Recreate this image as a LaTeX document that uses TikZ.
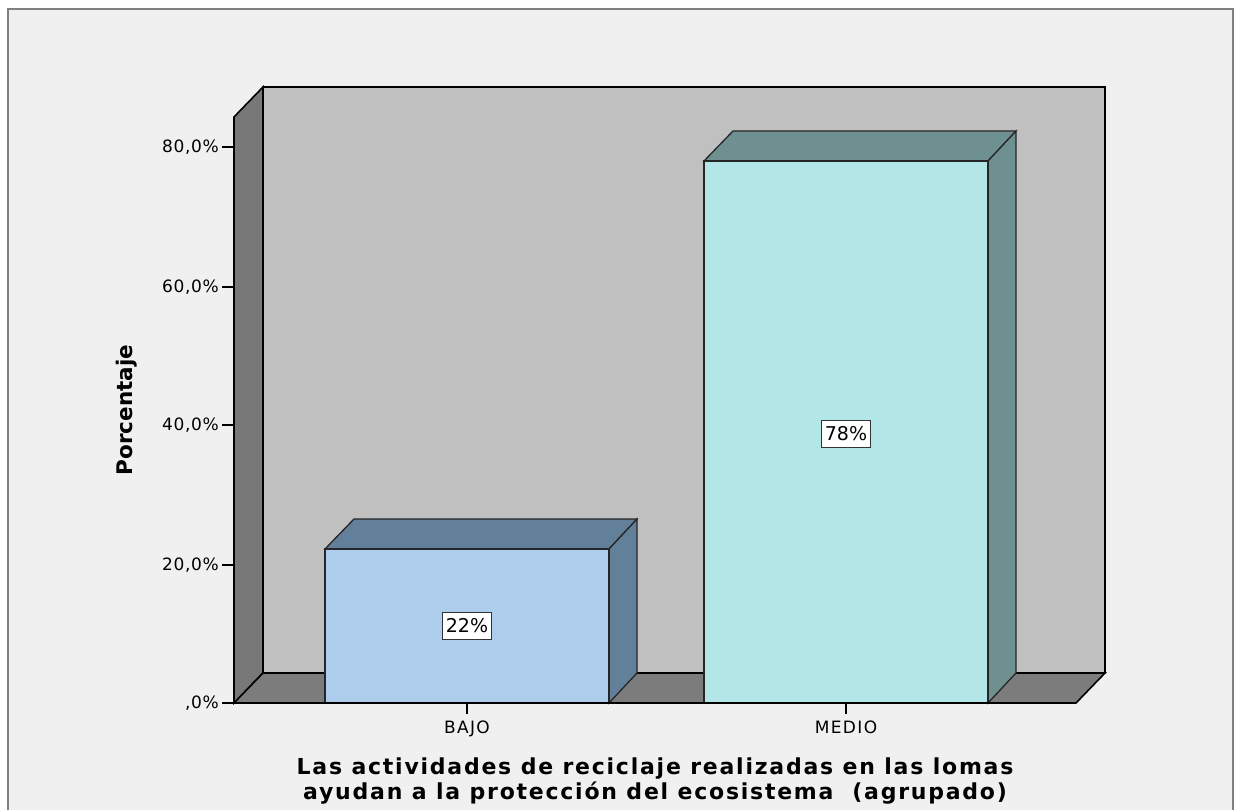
\documentclass[tikz,border=0pt]{standalone}
\usepackage{fontspec}
\setmainfont{DejaVu Sans}
\newfontfamily\titlefont[LetterSpace=8]{DejaVu Sans Bold}
\newfontfamily\labfont[LetterSpace=4]{DejaVu Sans}
\newfontfamily\catfont[LetterSpace=8]{DejaVu Sans}
\definecolor{bgc}{HTML}{F0F0F0}
\definecolor{framec}{HTML}{808080}
\definecolor{wallc}{HTML}{C0C0C0}
\definecolor{sidewallc}{HTML}{787878}
\definecolor{floorc}{HTML}{7C7C7C}
\definecolor{bajofront}{HTML}{AECDEC}
\definecolor{bajoside}{HTML}{62809A}
\definecolor{mediofront}{HTML}{B3E6E6}
\definecolor{medioside}{HTML}{6F9090}
\tikzset{
  edge/.style={draw=black, line width=1.6pt, line join=miter},
  baredge/.style={draw=black!85, line width=1.3pt, line join=miter},
  ticklab/.style={anchor=east, inner sep=0pt, font=\labfont\fontsize{17}{17}\selectfont},
  catlab/.style={anchor=north, inner sep=0pt, font=\catfont\fontsize{17}{17}\selectfont},
  valbox/.style={draw=black!80, fill=white, line width=1.3pt, inner xsep=3.5pt, inner ysep=6pt, font=\fontsize{19}{19}\selectfont},
  tickline/.style={draw=black, line width=1.4pt},
  xtitlestyle/.style={anchor=base, inner sep=0pt, font=\titlefont\fontsize{22}{22}\selectfont}
}
\begin{document}
\begin{tikzpicture}[x=1pt,y=-1pt]
\clip (0,0) rectangle (1234,810);
\fill[white] (0,0) rectangle (1234,810);
\fill[bgc] (8,9) rectangle (1233,820);
\draw[framec, line width=2pt] (8,830) -- (8,9) -- (1233,9) -- (1233,830);
% back wall
\filldraw[fill=wallc, edge] (263,87) -- (1105,87) -- (1105,673) -- (263,673) -- cycle;
% left wall
\filldraw[fill=sidewallc, edge] (234,117) -- (263,87) -- (263,673) -- (234,703) -- cycle;
% floor
\filldraw[fill=floorc, edge] (234,703) -- (263,673) -- (1105,673) -- (1076,703) -- cycle;
% BAJO bar
\filldraw[fill=bajoside, baredge] (325,549) -- (354,519) -- (637,519) -- (609,549) -- cycle;
\filldraw[fill=bajoside, baredge] (609,549) -- (637,519) -- (637,673) -- (609,703) -- cycle;
\filldraw[fill=bajofront, baredge] (325,549) rectangle (609,703);
% MEDIO bar
\filldraw[fill=medioside, baredge] (704,161) -- (733,131) -- (1016,131) -- (988,161) -- cycle;
\filldraw[fill=medioside, baredge] (988,161) -- (1016,131) -- (1016,673) -- (988,703) -- cycle;
\filldraw[fill=mediofront, baredge] (704,161) rectangle (988,703);
% axis line
\draw[edge] (234,703) -- (1076,703);
% y ticks
\foreach \v/\y/\n in {{,0\%}/703/t0, {20,0\%}/565/t20, {40,0\%}/425/t40, {60,0\%}/287/t60, {80,0\%}/147/t80}{
  \draw[tickline] (222,\y) -- (234,\y);
  \node[ticklab] (\n) at (219,\y) {\v};
}
% x ticks
\draw[tickline] (467,703) -- (467,714);
\draw[tickline] (846,703) -- (846,714);
\node[catlab] (bajo) at (467,721) {BAJO};
\node[catlab] (medio) at (846,721) {MEDIO};
% value labels
\node[valbox] (v22) at (467,626) {22\%};
\node[valbox] (v78) at (846,434) {78\%};
% axis title
\node[rotate=90, font=\bfseries\fontsize{21.5}{21.5}\selectfont, inner sep=0pt] (ytitle) at (127,410) {Porcentaje};
% x title
\node[xtitlestyle] (xtitle1) at (655,774) {Las actividades de reciclaje realizadas en las lomas};
\node[xtitlestyle] (xtitle2) at (655,799) {ayudan a la protección del ecosistema\ \ (agrupado)};
\end{tikzpicture}
\end{document}
